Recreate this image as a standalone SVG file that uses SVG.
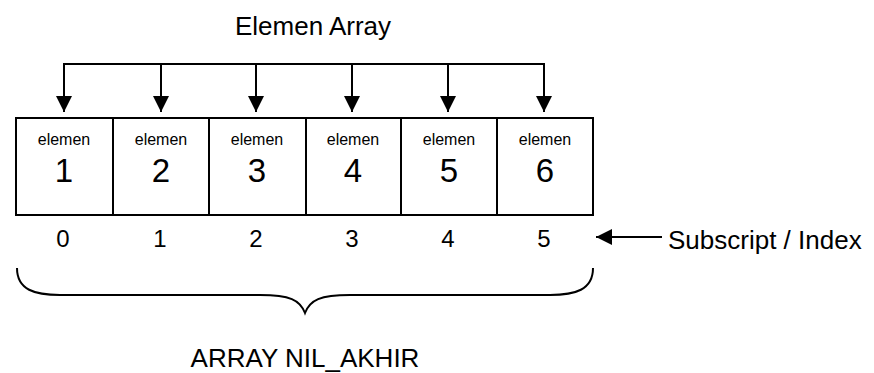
<svg xmlns="http://www.w3.org/2000/svg" width="874" height="373" viewBox="0 0 874 373">
<style>
text{font-family:"Liberation Sans",Arial,sans-serif;fill:#000}
.cell{fill:#fff;stroke:#000;stroke-width:2}
.sm{font-size:16px;text-anchor:middle}
.num{font-size:33px;text-anchor:middle}
.idx{font-size:24px;text-anchor:middle}
.lbl{font-size:26px}
.ln{fill:none;stroke:#000;stroke-width:2}
</style>
<defs>
<marker id="ahb" viewBox="0 0 16 16" markerWidth="16" markerHeight="16" refX="16" refY="8" orient="auto" markerUnits="userSpaceOnUse">
<path d="M0,0 L16,8 L0,16 Z" fill="#000"/>
</marker>
</defs>
<text class="lbl" x="313" y="35" text-anchor="middle">Elemen Array</text>
<g id="connectors">
<path class="ln" d="M64,64 H544"/>
<path class="ln" d="M64,63 V112" marker-end="url(#ahb)"/>
<path class="ln" d="M161,64 V112" marker-end="url(#ahb)"/>
<path class="ln" d="M256,64 V112" marker-end="url(#ahb)"/>
<path class="ln" d="M352,64 V112" marker-end="url(#ahb)"/>
<path class="ln" d="M448,64 V112" marker-end="url(#ahb)"/>
<path class="ln" d="M544,63 V112" marker-end="url(#ahb)"/>
<path class="ln" d="M662,237 H596" marker-end="url(#ahb)"/>
</g>
<g id="cell1"><rect class="cell" x="16" y="118" width="97" height="97"/><text class="sm" x="64" y="145">elemen</text><text class="num" x="64" y="182">1</text></g>
<g id="cell2"><rect class="cell" x="113" y="118" width="96" height="97"/><text class="sm" x="161" y="145">elemen</text><text class="num" x="161" y="182">2</text></g>
<g id="cell3"><rect class="cell" x="209" y="118" width="97" height="97"/><text class="sm" x="257" y="145">elemen</text><text class="num" x="257" y="182">3</text></g>
<g id="cell4"><rect class="cell" x="306" y="118" width="95" height="97"/><text class="sm" x="353" y="145">elemen</text><text class="num" x="353" y="182">4</text></g>
<g id="cell5"><rect class="cell" x="401" y="118" width="96" height="97"/><text class="sm" x="449" y="145">elemen</text><text class="num" x="449" y="182">5</text></g>
<g id="cell6"><rect class="cell" x="497" y="118" width="96" height="97"/><text class="sm" x="545" y="145">elemen</text><text class="num" x="545" y="182">6</text></g>
<g id="indices">
<text class="idx" x="63" y="247">0</text>
<text class="idx" x="160" y="247">1</text>
<text class="idx" x="256" y="247">2</text>
<text class="idx" x="352" y="247">3</text>
<text class="idx" x="448" y="247">4</text>
<text class="idx" x="544" y="247">5</text>
</g>
<text class="lbl" x="668" y="249">Subscript / Index</text>
<g id="brace">
<path class="ln" d="M17,268 C17,290 35,295 60,295 H260 C290,295 300,300 305,313 C310,300 320,295 350,295 H550 C575,295 593,290 593,268"/>
</g>
<text class="lbl" x="305" y="367" text-anchor="middle">ARRAY NIL_AKHIR</text>
</svg>
